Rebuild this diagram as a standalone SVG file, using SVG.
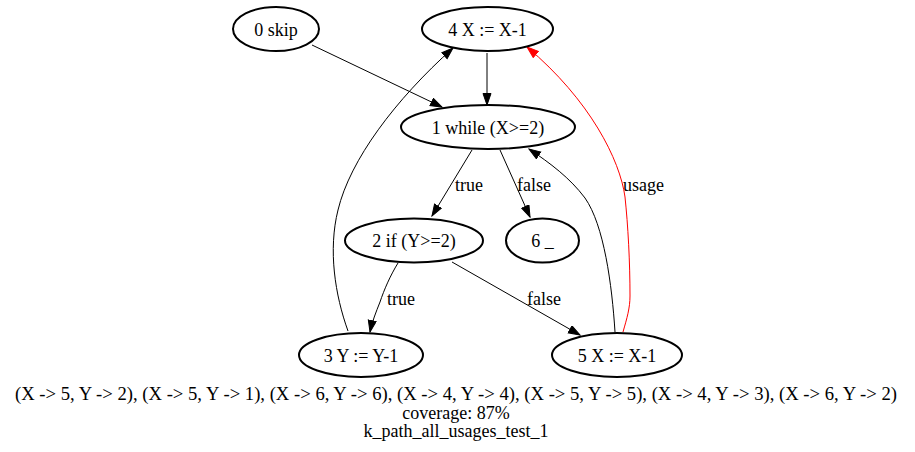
<svg xmlns="http://www.w3.org/2000/svg" width="915" height="452" viewBox="0 0 915 452" font-family="'Liberation Serif', 'Times New Roman', Times, 'DejaVu Serif', serif">
<style>
.node ellipse{fill:none;stroke:#000;stroke-width:2}
text{font-family:'Liberation Serif','Times New Roman',Times,'DejaVu Serif',serif;font-size:18px;fill:#000}
.c{text-anchor:middle}
.e{fill:none;stroke:#000;stroke-width:1}
.r{fill:none;stroke:#ff0000;stroke-width:1}
</style>
<defs>
<marker id="ab" markerUnits="userSpaceOnUse" markerWidth="13" markerHeight="10" refX="12" refY="4.5" orient="auto"><path d="M0.5,0.5 L12,4.5 L0.5,8.5 z" fill="#000" stroke="#000" stroke-width="1"/></marker>
<marker id="ar" markerUnits="userSpaceOnUse" markerWidth="13" markerHeight="10" refX="12" refY="4.5" orient="auto"><path d="M0.5,0.5 L12,4.5 L0.5,8.5 z" fill="#ff0000" stroke="#ff0000" stroke-width="1"/></marker>
</defs>
<g id="edges">
<path class="e" d="M312,45 L442,107" marker-end="url(#ab)"/>
<path class="e" d="M487,53 L487,105" marker-end="url(#ab)"/>
<path class="e" d="M472,150 L432,216" marker-end="url(#ab)"/>
<text x="455" y="191">true</text>
<path class="e" d="M500,150 L530,217" marker-end="url(#ab)"/>
<text x="517" y="191">false</text>
<path class="e" d="M398,263 C390,276 384,290 380,302 C376,312 372,322 370,332" marker-end="url(#ab)"/>
<text x="387" y="305">true</text>
<path class="e" d="M452,262 L580,335" marker-end="url(#ab)"/>
<text x="527" y="305">false</text>
<path class="e" d="M348,331 C335,295 328,250 338,210 C350,160 395,100 453,48" marker-end="url(#ab)"/>
<path class="e" d="M615,332 C612,285 604,225 585,198 C570,178 550,163 529,149" marker-end="url(#ab)"/>
<path class="r" d="M623,332 C627,318 630,308 630,296 C630,262 628,225 625,197 C620,160 590,100 527,47" marker-end="url(#ar)"/>
<text x="623" y="191">usage</text>
</g>
<g id="n0" class="node"><ellipse cx="276" cy="29" rx="43" ry="22"/><text class="c" x="276" y="35.5">0 skip</text></g>
<g id="n4" class="node"><ellipse cx="487.5" cy="29" rx="65.5" ry="22"/><text class="c" x="487.5" y="35.5">4 X := X-1</text></g>
<g id="n1" class="node"><ellipse cx="488" cy="127" rx="87" ry="22"/><text class="c" x="488" y="133.5">1 while (X&gt;=2)</text></g>
<g id="n2" class="node"><ellipse cx="414" cy="240.5" rx="69" ry="22"/><text class="c" x="414" y="247">2 if (Y&gt;=2)</text></g>
<g id="n6" class="node"><ellipse cx="542.5" cy="240.5" rx="36.5" ry="22"/><text class="c" x="542.5" y="247">6 _</text></g>
<g id="n3" class="node"><ellipse cx="361" cy="355" rx="62" ry="22"/><text class="c" x="361" y="361.5">3 Y := Y-1</text></g>
<g id="n5" class="node"><ellipse cx="617" cy="355" rx="65" ry="22"/><text class="c" x="617" y="361.5">5 X := X-1</text></g>
<g id="label">
<text class="c" x="456" y="400" textLength="882" lengthAdjust="spacingAndGlyphs">(X -&gt; 5, Y -&gt; 2), (X -&gt; 5, Y -&gt; 1), (X -&gt; 6, Y -&gt; 6), (X -&gt; 4, Y -&gt; 4), (X -&gt; 5, Y -&gt; 5), (X -&gt; 4, Y -&gt; 3), (X -&gt; 6, Y -&gt; 2)</text>
<text class="c" x="456" y="418.5">coverage: 87%</text>
<text class="c" x="456" y="437">k_path_all_usages_test_1</text>
</g>
</svg>
